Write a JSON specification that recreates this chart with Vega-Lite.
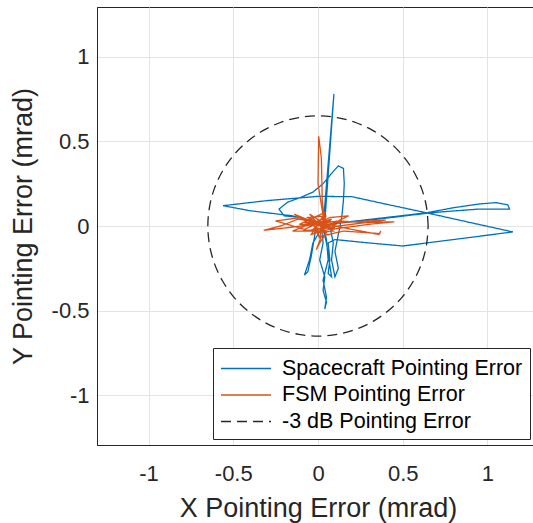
{
  "$schema": "https://vega.github.io/schema/vega-lite/v6.json",
  "width": 442,
  "height": 438,
  "autosize": {"type": "none"},
  "padding": {"left": 97, "top": 7, "right": 0, "bottom": 78},
  "background": "white",
  "config": {
    "font": "Liberation Sans",
    "view": {"stroke": "#262626", "strokeWidth": 1},
    "axis": {
      "domainColor": "#262626",
      "gridColor": "#e3e3e3",
      "gridWidth": 1,
      "ticks": false,
      "labelColor": "#262626",
      "titleColor": "#262626",
      "labelFontSize": 22,
      "titleFontSize": 27,
      "titleFontWeight": "normal",
      "labelExpr": "'' + datum.value"
    },
    "legend": {
      "strokeColor": "#262626",
      "fillColor": "white",
      "labelFontSize": 21.5,
      "labelColor": "#000000",
      "labelLimit": 400,
      "symbolType": "M-1,0H3",
      "symbolStrokeWidth": 1.3,
      "symbolSize": 625,
      "rowPadding": 2.5,
      "labelOffset": 35,
      "padding": 7
    }
  },
  "data": {
    "values": [
      {"series": "Spacecraft Pointing Error", "i": 1, "x": 0.02, "y": 0.0},
      {"series": "Spacecraft Pointing Error", "i": 2, "x": 0.03, "y": -0.1},
      {"series": "Spacecraft Pointing Error", "i": 3, "x": 0.01, "y": -0.2},
      {"series": "Spacecraft Pointing Error", "i": 4, "x": 0.04, "y": -0.3},
      {"series": "Spacecraft Pointing Error", "i": 5, "x": 0.03, "y": -0.38},
      {"series": "Spacecraft Pointing Error", "i": 6, "x": 0.05, "y": -0.45},
      {"series": "Spacecraft Pointing Error", "i": 7, "x": 0.04, "y": -0.49},
      {"series": "Spacecraft Pointing Error", "i": 8, "x": 0.05, "y": -0.42},
      {"series": "Spacecraft Pointing Error", "i": 9, "x": 0.03, "y": -0.32},
      {"series": "Spacecraft Pointing Error", "i": 10, "x": 0.06, "y": -0.2},
      {"series": "Spacecraft Pointing Error", "i": 11, "x": 0.05, "y": -0.08},
      {"series": "Spacecraft Pointing Error", "i": 12, "x": 0.03, "y": 0.0},
      {"series": "Spacecraft Pointing Error", "i": 13, "x": 0.094, "y": 0.78},
      {"series": "Spacecraft Pointing Error", "i": 14, "x": 0.04, "y": 0.02},
      {"series": "Spacecraft Pointing Error", "i": 15, "x": 0.0, "y": -0.05},
      {"series": "Spacecraft Pointing Error", "i": 16, "x": -0.03, "y": -0.1},
      {"series": "Spacecraft Pointing Error", "i": 17, "x": -0.05, "y": -0.2},
      {"series": "Spacecraft Pointing Error", "i": 18, "x": -0.07, "y": -0.26},
      {"series": "Spacecraft Pointing Error", "i": 19, "x": -0.08, "y": -0.29},
      {"series": "Spacecraft Pointing Error", "i": 20, "x": -0.06, "y": -0.27},
      {"series": "Spacecraft Pointing Error", "i": 21, "x": -0.04, "y": -0.18},
      {"series": "Spacecraft Pointing Error", "i": 22, "x": -0.02, "y": -0.06},
      {"series": "Spacecraft Pointing Error", "i": 23, "x": -0.01, "y": 0.01},
      {"series": "Spacecraft Pointing Error", "i": 24, "x": -0.1, "y": 0.05},
      {"series": "Spacecraft Pointing Error", "i": 25, "x": -0.2, "y": 0.06},
      {"series": "Spacecraft Pointing Error", "i": 26, "x": -0.23, "y": 0.1},
      {"series": "Spacecraft Pointing Error", "i": 27, "x": -0.18, "y": 0.14},
      {"series": "Spacecraft Pointing Error", "i": 28, "x": -0.1, "y": 0.17},
      {"series": "Spacecraft Pointing Error", "i": 29, "x": -0.03, "y": 0.2},
      {"series": "Spacecraft Pointing Error", "i": 30, "x": 0.03, "y": 0.25},
      {"series": "Spacecraft Pointing Error", "i": 31, "x": 0.08, "y": 0.31},
      {"series": "Spacecraft Pointing Error", "i": 32, "x": 0.12, "y": 0.355},
      {"series": "Spacecraft Pointing Error", "i": 33, "x": 0.15, "y": 0.34},
      {"series": "Spacecraft Pointing Error", "i": 34, "x": 0.155, "y": 0.25},
      {"series": "Spacecraft Pointing Error", "i": 35, "x": 0.15, "y": 0.15},
      {"series": "Spacecraft Pointing Error", "i": 36, "x": 0.14, "y": 0.05},
      {"series": "Spacecraft Pointing Error", "i": 37, "x": 0.12, "y": -0.05},
      {"series": "Spacecraft Pointing Error", "i": 38, "x": 0.1, "y": -0.15},
      {"series": "Spacecraft Pointing Error", "i": 39, "x": 0.12, "y": -0.25},
      {"series": "Spacecraft Pointing Error", "i": 40, "x": 0.1, "y": -0.3},
      {"series": "Spacecraft Pointing Error", "i": 41, "x": 0.08, "y": -0.2},
      {"series": "Spacecraft Pointing Error", "i": 42, "x": 0.09, "y": -0.1},
      {"series": "Spacecraft Pointing Error", "i": 43, "x": 0.07, "y": 0.0},
      {"series": "Spacecraft Pointing Error", "i": 44, "x": -0.15, "y": 0.06},
      {"series": "Spacecraft Pointing Error", "i": 45, "x": -0.4, "y": 0.09},
      {"series": "Spacecraft Pointing Error", "i": 46, "x": -0.56, "y": 0.12},
      {"series": "Spacecraft Pointing Error", "i": 47, "x": -0.3, "y": 0.15},
      {"series": "Spacecraft Pointing Error", "i": 48, "x": 0.0, "y": 0.175},
      {"series": "Spacecraft Pointing Error", "i": 49, "x": 0.2, "y": 0.173},
      {"series": "Spacecraft Pointing Error", "i": 50, "x": 0.42, "y": 0.125},
      {"series": "Spacecraft Pointing Error", "i": 51, "x": 0.64, "y": 0.078},
      {"series": "Spacecraft Pointing Error", "i": 52, "x": 0.8, "y": 0.108},
      {"series": "Spacecraft Pointing Error", "i": 53, "x": 0.95, "y": 0.13},
      {"series": "Spacecraft Pointing Error", "i": 54, "x": 1.05, "y": 0.138},
      {"series": "Spacecraft Pointing Error", "i": 55, "x": 1.12, "y": 0.125},
      {"series": "Spacecraft Pointing Error", "i": 56, "x": 1.13, "y": 0.1},
      {"series": "Spacecraft Pointing Error", "i": 57, "x": 0.95, "y": 0.1},
      {"series": "Spacecraft Pointing Error", "i": 58, "x": 0.75, "y": 0.085},
      {"series": "Spacecraft Pointing Error", "i": 59, "x": 0.64, "y": 0.075},
      {"series": "Spacecraft Pointing Error", "i": 60, "x": 0.35, "y": 0.04},
      {"series": "Spacecraft Pointing Error", "i": 61, "x": 0.05, "y": 0.01},
      {"series": "Spacecraft Pointing Error", "i": 62, "x": 0.4, "y": 0.05},
      {"series": "Spacecraft Pointing Error", "i": 63, "x": 0.64, "y": 0.078},
      {"series": "Spacecraft Pointing Error", "i": 64, "x": 0.9, "y": 0.02},
      {"series": "Spacecraft Pointing Error", "i": 65, "x": 1.15, "y": -0.035},
      {"series": "Spacecraft Pointing Error", "i": 66, "x": 0.8, "y": -0.08},
      {"series": "Spacecraft Pointing Error", "i": 67, "x": 0.5, "y": -0.118},
      {"series": "Spacecraft Pointing Error", "i": 68, "x": 0.3, "y": -0.1},
      {"series": "Spacecraft Pointing Error", "i": 69, "x": 0.1, "y": -0.08},
      {"series": "Spacecraft Pointing Error", "i": 70, "x": 0.06, "y": -0.1},
      {"series": "Spacecraft Pointing Error", "i": 71, "x": 0.07, "y": -0.2},
      {"series": "Spacecraft Pointing Error", "i": 72, "x": 0.06, "y": -0.28},
      {"series": "Spacecraft Pointing Error", "i": 73, "x": 0.08, "y": -0.3},
      {"series": "Spacecraft Pointing Error", "i": 74, "x": 0.05, "y": -0.1},
      {"series": "Spacecraft Pointing Error", "i": 75, "x": 0.02, "y": 0.02},
      {"series": "FSM Pointing Error", "i": 1, "x": 0.0, "y": 0.0},
      {"series": "FSM Pointing Error", "i": 2, "x": 0.06, "y": 0.03},
      {"series": "FSM Pointing Error", "i": 3, "x": -0.08, "y": 0.02},
      {"series": "FSM Pointing Error", "i": 4, "x": 0.1, "y": -0.01},
      {"series": "FSM Pointing Error", "i": 5, "x": -0.04, "y": -0.05},
      {"series": "FSM Pointing Error", "i": 6, "x": 0.03, "y": 0.06},
      {"series": "FSM Pointing Error", "i": 7, "x": 0.0, "y": 0.25},
      {"series": "FSM Pointing Error", "i": 8, "x": 0.004, "y": 0.53},
      {"series": "FSM Pointing Error", "i": 9, "x": 0.02, "y": 0.4},
      {"series": "FSM Pointing Error", "i": 10, "x": 0.025, "y": 0.15},
      {"series": "FSM Pointing Error", "i": 11, "x": 0.04, "y": 0.02},
      {"series": "FSM Pointing Error", "i": 12, "x": -0.12, "y": 0.04},
      {"series": "FSM Pointing Error", "i": 13, "x": -0.22, "y": 0.0},
      {"series": "FSM Pointing Error", "i": 14, "x": -0.32, "y": -0.025},
      {"series": "FSM Pointing Error", "i": 15, "x": -0.18, "y": -0.01},
      {"series": "FSM Pointing Error", "i": 16, "x": -0.02, "y": 0.01},
      {"series": "FSM Pointing Error", "i": 17, "x": 0.12, "y": 0.03},
      {"series": "FSM Pointing Error", "i": 18, "x": 0.28, "y": 0.02},
      {"series": "FSM Pointing Error", "i": 19, "x": 0.45, "y": 0.025},
      {"series": "FSM Pointing Error", "i": 20, "x": 0.3, "y": 0.01},
      {"series": "FSM Pointing Error", "i": 21, "x": 0.08, "y": -0.02},
      {"series": "FSM Pointing Error", "i": 22, "x": -0.14, "y": 0.07},
      {"series": "FSM Pointing Error", "i": 23, "x": -0.06, "y": 0.02},
      {"series": "FSM Pointing Error", "i": 24, "x": 0.05, "y": -0.04},
      {"series": "FSM Pointing Error", "i": 25, "x": 0.01, "y": -0.1},
      {"series": "FSM Pointing Error", "i": 26, "x": -0.01, "y": -0.14},
      {"series": "FSM Pointing Error", "i": 27, "x": 0.02, "y": -0.06},
      {"series": "FSM Pointing Error", "i": 28, "x": 0.15, "y": -0.03},
      {"series": "FSM Pointing Error", "i": 29, "x": 0.3, "y": -0.04},
      {"series": "FSM Pointing Error", "i": 30, "x": 0.364, "y": -0.045},
      {"series": "FSM Pointing Error", "i": 31, "x": 0.37, "y": -0.03},
      {"series": "FSM Pointing Error", "i": 32, "x": 0.36, "y": -0.05},
      {"series": "FSM Pointing Error", "i": 33, "x": 0.2, "y": -0.02},
      {"series": "FSM Pointing Error", "i": 34, "x": 0.05, "y": 0.01},
      {"series": "FSM Pointing Error", "i": 35, "x": -0.1, "y": 0.05},
      {"series": "FSM Pointing Error", "i": 36, "x": -0.25, "y": 0.03},
      {"series": "FSM Pointing Error", "i": 37, "x": -0.08, "y": -0.02},
      {"series": "FSM Pointing Error", "i": 38, "x": 0.07, "y": 0.05},
      {"series": "FSM Pointing Error", "i": 39, "x": 0.18, "y": 0.06},
      {"series": "FSM Pointing Error", "i": 40, "x": 0.06, "y": 0.0},
      {"series": "FSM Pointing Error", "i": 41, "x": -0.05, "y": 0.07},
      {"series": "FSM Pointing Error", "i": 42, "x": 0.04, "y": -0.03},
      {"series": "FSM Pointing Error", "i": 43, "x": -0.15, "y": -0.03},
      {"series": "FSM Pointing Error", "i": 44, "x": 0.02, "y": 0.04},
      {"series": "FSM Pointing Error", "i": 45, "x": 0.1, "y": 0.02},
      {"series": "FSM Pointing Error", "i": 46, "x": 0.4, "y": 0.035},
      {"series": "FSM Pointing Error", "i": 47, "x": 0.12, "y": 0.0},
      {"series": "FSM Pointing Error", "i": 48, "x": -0.03, "y": -0.02},
      {"series": "FSM Pointing Error", "i": 49, "x": 0.03, "y": 0.03},
      {"series": "FSM Pointing Error", "i": 50, "x": -0.07, "y": 0.0},
      {"series": "FSM Pointing Error", "i": 51, "x": 0.08, "y": 0.04},
      {"series": "FSM Pointing Error", "i": 52, "x": -0.02, "y": -0.04},
      {"series": "FSM Pointing Error", "i": 53, "x": 0.09, "y": -0.03},
      {"series": "FSM Pointing Error", "i": 54, "x": -0.06, "y": 0.05},
      {"series": "FSM Pointing Error", "i": 55, "x": 0.05, "y": 0.06},
      {"series": "FSM Pointing Error", "i": 56, "x": -0.09, "y": -0.03},
      {"series": "FSM Pointing Error", "i": 57, "x": 0.07, "y": -0.01},
      {"series": "FSM Pointing Error", "i": 58, "x": -0.04, "y": 0.04},
      {"series": "FSM Pointing Error", "i": 59, "x": 0.01, "y": -0.07},
      {"series": "FSM Pointing Error", "i": 60, "x": 0.04, "y": 0.08},
      {"series": "FSM Pointing Error", "i": 61, "x": -0.11, "y": 0.01},
      {"series": "FSM Pointing Error", "i": 62, "x": 0.11, "y": 0.01},
      {"series": "FSM Pointing Error", "i": 63, "x": 0.0, "y": 0.0},
      {"series": "-3 dB Pointing Error", "i": 1, "x": 0.65, "y": 0.0},
      {"series": "-3 dB Pointing Error", "i": 2, "x": 0.64, "y": 0.113},
      {"series": "-3 dB Pointing Error", "i": 3, "x": 0.611, "y": 0.222},
      {"series": "-3 dB Pointing Error", "i": 4, "x": 0.563, "y": 0.325},
      {"series": "-3 dB Pointing Error", "i": 5, "x": 0.498, "y": 0.418},
      {"series": "-3 dB Pointing Error", "i": 6, "x": 0.418, "y": 0.498},
      {"series": "-3 dB Pointing Error", "i": 7, "x": 0.325, "y": 0.563},
      {"series": "-3 dB Pointing Error", "i": 8, "x": 0.222, "y": 0.611},
      {"series": "-3 dB Pointing Error", "i": 9, "x": 0.113, "y": 0.64},
      {"series": "-3 dB Pointing Error", "i": 10, "x": 0.0, "y": 0.65},
      {"series": "-3 dB Pointing Error", "i": 11, "x": -0.113, "y": 0.64},
      {"series": "-3 dB Pointing Error", "i": 12, "x": -0.222, "y": 0.611},
      {"series": "-3 dB Pointing Error", "i": 13, "x": -0.325, "y": 0.563},
      {"series": "-3 dB Pointing Error", "i": 14, "x": -0.418, "y": 0.498},
      {"series": "-3 dB Pointing Error", "i": 15, "x": -0.498, "y": 0.418},
      {"series": "-3 dB Pointing Error", "i": 16, "x": -0.563, "y": 0.325},
      {"series": "-3 dB Pointing Error", "i": 17, "x": -0.611, "y": 0.222},
      {"series": "-3 dB Pointing Error", "i": 18, "x": -0.64, "y": 0.113},
      {"series": "-3 dB Pointing Error", "i": 19, "x": -0.65, "y": 0.0},
      {"series": "-3 dB Pointing Error", "i": 20, "x": -0.64, "y": -0.113},
      {"series": "-3 dB Pointing Error", "i": 21, "x": -0.611, "y": -0.222},
      {"series": "-3 dB Pointing Error", "i": 22, "x": -0.563, "y": -0.325},
      {"series": "-3 dB Pointing Error", "i": 23, "x": -0.498, "y": -0.418},
      {"series": "-3 dB Pointing Error", "i": 24, "x": -0.418, "y": -0.498},
      {"series": "-3 dB Pointing Error", "i": 25, "x": -0.325, "y": -0.563},
      {"series": "-3 dB Pointing Error", "i": 26, "x": -0.222, "y": -0.611},
      {"series": "-3 dB Pointing Error", "i": 27, "x": -0.113, "y": -0.64},
      {"series": "-3 dB Pointing Error", "i": 28, "x": 0.0, "y": -0.65},
      {"series": "-3 dB Pointing Error", "i": 29, "x": 0.113, "y": -0.64},
      {"series": "-3 dB Pointing Error", "i": 30, "x": 0.222, "y": -0.611},
      {"series": "-3 dB Pointing Error", "i": 31, "x": 0.325, "y": -0.563},
      {"series": "-3 dB Pointing Error", "i": 32, "x": 0.418, "y": -0.498},
      {"series": "-3 dB Pointing Error", "i": 33, "x": 0.498, "y": -0.418},
      {"series": "-3 dB Pointing Error", "i": 34, "x": 0.563, "y": -0.325},
      {"series": "-3 dB Pointing Error", "i": 35, "x": 0.611, "y": -0.222},
      {"series": "-3 dB Pointing Error", "i": 36, "x": 0.64, "y": -0.113},
      {"series": "-3 dB Pointing Error", "i": 37, "x": 0.65, "y": 0.0}
    ]
  },
  "encoding": {
    "x": {
      "field": "x", "type": "quantitative",
      "scale": {"domain": [-1.304, 1.304], "nice": false, "zero": false},
      "axis": {"values": [-1, -0.5, 0, 0.5, 1], "labelPadding": 18, "title": "X Pointing Error (mrad)", "titleBaseline": "alphabetic", "titleY": 71.5}
    },
    "y": {
      "field": "y", "type": "quantitative",
      "scale": {"domain": [-1.293, 1.293], "nice": false, "zero": false},
      "axis": {"values": [-1, -0.5, 0, 0.5, 1], "labelPadding": 8, "title": "Y Pointing Error (mrad)", "titleBaseline": "alphabetic", "titleX": -66}
    },
    "order": {"field": "i", "type": "quantitative"},
    "color": {
      "field": "series", "type": "nominal", "title": null,
      "scale": {
        "domain": ["Spacecraft Pointing Error", "FSM Pointing Error", "-3 dB Pointing Error"],
        "range": ["#0072BD", "#D95319", "#262626"]
      },
      "legend": {"orient": "none", "legendX": 116, "legendY": 341}
    },
    "strokeDash": {
      "field": "series", "type": "nominal", "title": null,
      "scale": {
        "domain": ["Spacecraft Pointing Error", "FSM Pointing Error", "-3 dB Pointing Error"],
        "range": [[1, 0], [1, 0], [10, 6]]
      },
      "legend": {"orient": "none", "legendX": 116, "legendY": 341}
    }
  },
  "layer": [
    {
      "transform": [{"filter": "datum.series === 'Spacecraft Pointing Error'"}],
      "mark": {"type": "line", "strokeWidth": 1.3, "clip": true}
    },
    {
      "transform": [{"filter": "datum.series === 'FSM Pointing Error'"}],
      "mark": {"type": "line", "strokeWidth": 1.3, "clip": true}
    },
    {
      "transform": [{"filter": "datum.series === '-3 dB Pointing Error'"}],
      "mark": {"type": "line", "strokeWidth": 1.3, "interpolate": "cardinal", "clip": true}
    }
  ]
}
